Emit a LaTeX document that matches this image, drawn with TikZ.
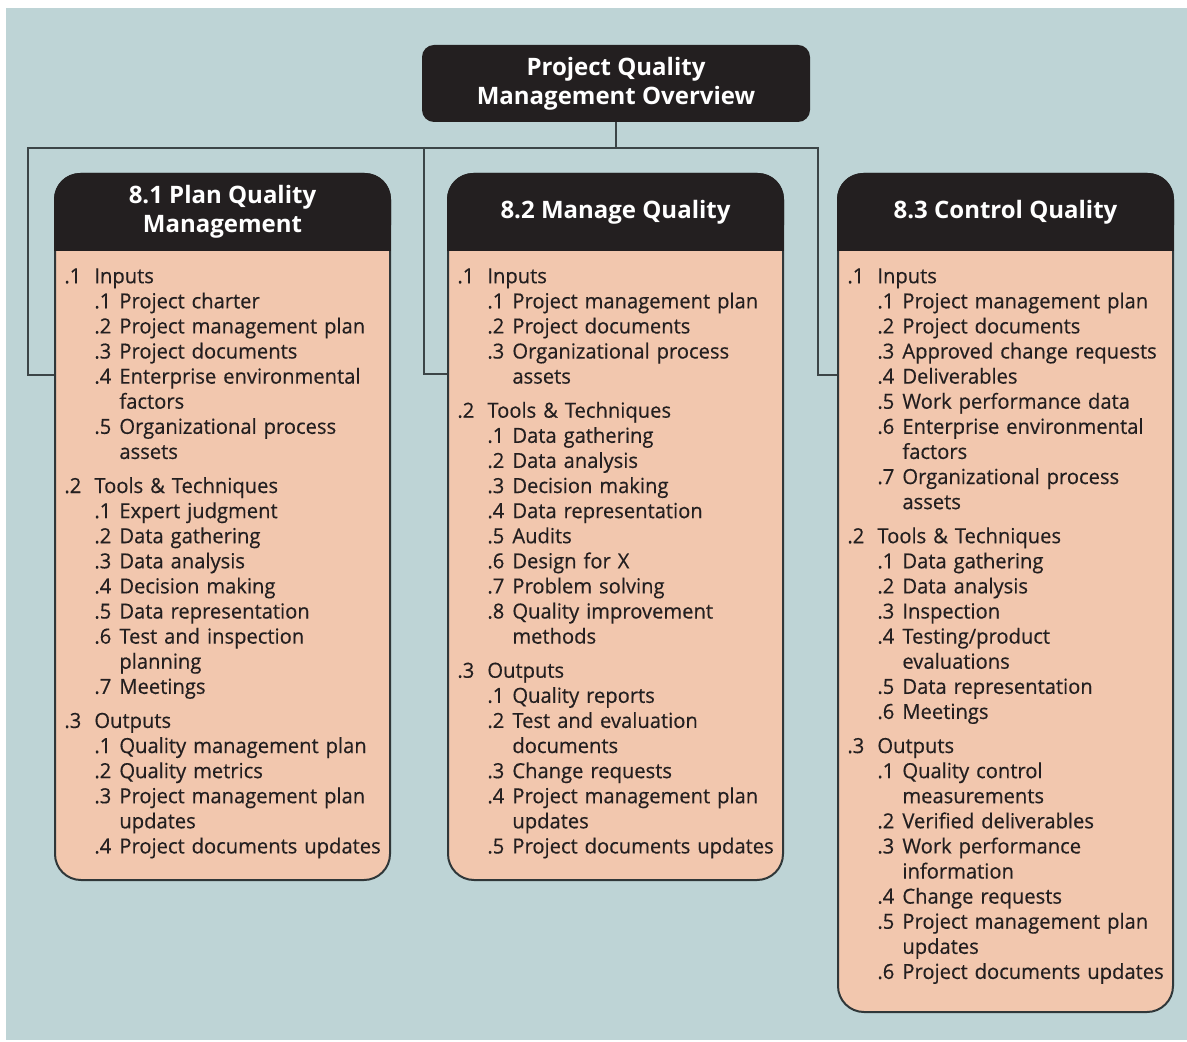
\documentclass[tikz,border=0pt]{standalone}
\usepackage{fontspec}
\setmainfont{Open Sans}
\newfontfamily\listfont{Open Sans}[FakeBold=0.4, FakeStretch=0.97]
\usepackage{xcolor}
\definecolor{pqBack}{HTML}{BED4D6}
\definecolor{pqBody}{HTML}{F2C7AE}
\definecolor{pqHead}{HTML}{231F20}
\definecolor{pqLine}{HTML}{3C4547}
\definecolor{pqText}{HTML}{231F20}
\usepackage{tikz}

% list lines inside the process boxes
\newcommand{\grp}[2]{\makebox[15pt][l]{#1}#2\par}
\newcommand{\itm}[2]{\hspace*{15pt}\makebox[12.5pt][l]{#1}#2\par}
\newcommand{\cnt}[1]{\hspace*{27.5pt}#1\par}
\newcommand{\gap}{\vspace{4.5pt}}

\begin{document}
\begin{tikzpicture}[x=0.5pt, y=-0.5pt,
    conn/.style={pqLine, line width=1pt},
    topbox/.style={fill=pqHead, rounded corners=6pt, minimum width=194pt, minimum height=38.5pt,
      inner sep=0pt, align=center, text=white, font=\bfseries\fontsize{12}{14.5}\selectfont},
    procbox/.style={draw=pqLine!80!black, line width=1pt, fill=pqBody, rounded corners=13pt,
      minimum width=167.5pt, inner sep=0pt},
    headtext/.style={align=center, text=white, font=\bfseries\fontsize{12}{14.5}\selectfont},
    listtext/.style={anchor=north west, inner sep=0pt, text width=185pt, align=left, text=pqText,
      font=\listfont\fontsize{10.4}{12.55}\selectfont, execute at begin node={\setlength{\parindent}{0pt}}}]
  \useasboundingbox (0,0) rectangle (1187,1042);
  \fill[white] (0,0) rectangle (1187,1042);
  \fill[pqBack] (6,8) rectangle (1187,1040);

  % ------- top box -------
  \node[topbox] (overview) at (616,83.5) {Project Quality\\Management Overview};

  % ------- connectors -------
  \coordinate (k1) at (28,148);
  \coordinate (k2) at (424,148);
  \coordinate (k3) at (818,148);
  \coordinate (e1) at (28,375);
  \coordinate (e2) at (424,374);
  \coordinate (e3) at (818,375);
  \draw[conn] (overview.south) -- (overview.south |- k1);
  \draw[conn] (e1 -| 60,0) -- (e1) -- (k1) -- (k3) -- (e3) -- (e3 -| 845,0);
  \draw[conn] (k2) -- (e2) -- (e2 -| 455,0);

  % ------- 8.1 -------
  \node[procbox, minimum height=353pt] (p1) at (222.5,527) {};
  \fill[pqHead, rounded corners=13pt] (p1.north west) rectangle ([yshift=-39pt]p1.north east);
  \fill[pqHead] ([yshift=-20pt]p1.north west) rectangle ([yshift=-39pt]p1.north east);
  \node[headtext] (h1) at ([yshift=-19.5pt]p1.north) {8.1 Plan Quality\\Management};
  \node[listtext] (t1) at ([xshift=5pt, yshift=-47.5pt]p1.north west) {%
    \grp{.1}{Inputs}
    \itm{.1}{Project charter}
    \itm{.2}{Project management plan}
    \itm{.3}{Project documents}
    \itm{.4}{Enterprise environmental}
    \cnt{factors}
    \itm{.5}{Organizational process}
    \cnt{assets}
    \gap
    \grp{.2}{Tools \& Techniques}
    \itm{.1}{Expert judgment}
    \itm{.2}{Data gathering}
    \itm{.3}{Data analysis}
    \itm{.4}{Decision making}
    \itm{.5}{Data representation}
    \itm{.6}{Test and inspection}
    \cnt{planning}
    \itm{.7}{Meetings}
    \gap
    \grp{.3}{Outputs}
    \itm{.1}{Quality management plan}
    \itm{.2}{Quality metrics}
    \itm{.3}{Project management plan}
    \cnt{updates}
    \itm{.4}{Project documents updates}};

  % ------- 8.2 -------
  \node[procbox, minimum height=353pt] (p2) at (615.5,527) {};
  \fill[pqHead, rounded corners=13pt] (p2.north west) rectangle ([yshift=-39pt]p2.north east);
  \fill[pqHead] ([yshift=-20pt]p2.north west) rectangle ([yshift=-39pt]p2.north east);
  \node[headtext] (h2) at ([yshift=-19.5pt]p2.north) {8.2 Manage Quality};
  \node[listtext] (t2) at ([xshift=5pt, yshift=-47.5pt]p2.north west) {%
    \grp{.1}{Inputs}
    \itm{.1}{Project management plan}
    \itm{.2}{Project documents}
    \itm{.3}{Organizational process}
    \cnt{assets}
    \gap
    \grp{.2}{Tools \& Techniques}
    \itm{.1}{Data gathering}
    \itm{.2}{Data analysis}
    \itm{.3}{Decision making}
    \itm{.4}{Data representation}
    \itm{.5}{Audits}
    \itm{.6}{Design for X}
    \itm{.7}{Problem solving}
    \itm{.8}{Quality improvement}
    \cnt{methods}
    \gap
    \grp{.3}{Outputs}
    \itm{.1}{Quality reports}
    \itm{.2}{Test and evaluation}
    \cnt{documents}
    \itm{.3}{Change requests}
    \itm{.4}{Project management plan}
    \cnt{updates}
    \itm{.5}{Project documents updates}};

  % ------- 8.3 -------
  \node[procbox, minimum height=419pt] (p3) at (1005.5,593) {};
  \fill[pqHead, rounded corners=13pt] (p3.north west) rectangle ([yshift=-39pt]p3.north east);
  \fill[pqHead] ([yshift=-20pt]p3.north west) rectangle ([yshift=-39pt]p3.north east);
  \node[headtext] (h3) at ([yshift=-19.5pt]p3.north) {8.3 Control Quality};
  \node[listtext] (t3) at ([xshift=5pt, yshift=-47.5pt]p3.north west) {%
    \grp{.1}{Inputs}
    \itm{.1}{Project management plan}
    \itm{.2}{Project documents}
    \itm{.3}{Approved change requests}
    \itm{.4}{Deliverables}
    \itm{.5}{Work performance data}
    \itm{.6}{Enterprise environmental}
    \cnt{factors}
    \itm{.7}{Organizational process}
    \cnt{assets}
    \gap
    \grp{.2}{Tools \& Techniques}
    \itm{.1}{Data gathering}
    \itm{.2}{Data analysis}
    \itm{.3}{Inspection}
    \itm{.4}{Testing/product}
    \cnt{evaluations}
    \itm{.5}{Data representation}
    \itm{.6}{Meetings}
    \gap
    \grp{.3}{Outputs}
    \itm{.1}{Quality control}
    \cnt{measurements}
    \itm{.2}{Verified deliverables}
    \itm{.3}{Work performance}
    \cnt{information}
    \itm{.4}{Change requests}
    \itm{.5}{Project management plan}
    \cnt{updates}
    \itm{.6}{Project documents updates}};
\end{tikzpicture}
\end{document}
